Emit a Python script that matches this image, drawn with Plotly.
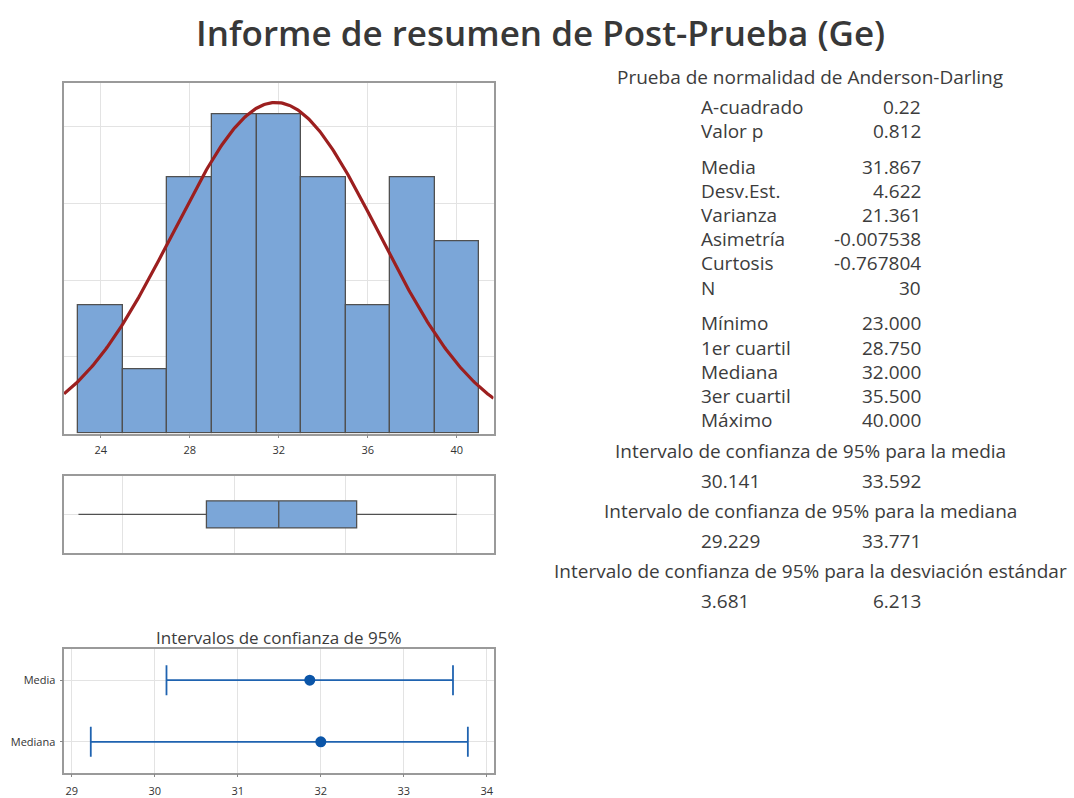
import plotly.graph_objects as go
import numpy as np

# ---- data ----
bin_centers = [24, 26, 28, 30, 32, 34, 36, 38, 40]
bin_counts = [2, 1, 4, 5, 5, 4, 2, 4, 3]
bin_width = 2

n_obs = 30
mean_val = 31.867
sd_val = 4.622

box_min = 23.0
box_q1 = 28.75
box_median = 32.0
box_q3 = 35.5
box_max = 40.0

ci_labels = ["Media", "Mediana"]
ci_centers = [31.867, 32.0]
ci_lower = [30.141, 29.229]
ci_upper = [33.592, 33.771]

ad_labels = ["A-cuadrado", "Valor p"]
ad_values = ["0.22", "0.812"]
desc_labels = ["Media", "Desv.Est.", "Varianza", "Asimetría", "Curtosis", "N"]
desc_values = ["31.867", "4.622", "21.361", "-0.007538", "-0.767804", "30"]
quant_labels = ["Mínimo", "1er cuartil", "Mediana", "3er cuartil", "Máximo"]
quant_values = ["23.000", "28.750", "32.000", "35.500", "40.000"]

ci_headers = [
    "Intervalo de confianza de 95% para la media",
    "Intervalo de confianza de 95% para la mediana",
    "Intervalo de confianza de 95% para la desviación estándar",
]
ci_low_text = ["30.141", "29.229", "3.681"]
ci_high_text = ["33.592", "33.771", "6.213"]

# ---- styling ----
W, H = 1074, 798
FONT = "Open Sans"
TXT = "#3c3c3c"
BAR_FILL = "#7ba6d8"
BAR_LINE = "#505050"
CURVE = "#9c1f1f"
FRAME = "#9a9a9a"
GRID = "#e3e3e3"
CI_BLUE = "#1f63b0"
STAT_SIZE = 19


def px_x(v):
    return v / W


def px_y(v):
    return 1 - v / H


fig = go.Figure()

# histogram (density scale) with fitted normal curve
density = [c / (n_obs * bin_width) for c in bin_counts]
fig.add_trace(go.Bar(
    x=bin_centers, y=density, width=bin_width,
    marker=dict(color=BAR_FILL, line=dict(color=BAR_LINE, width=1.3)),
    xaxis="x", yaxis="y", hoverinfo="skip",
))
xs = np.linspace(22.35, 41.65, 300)
pdf = np.exp(-0.5 * ((xs - mean_val) / sd_val) ** 2) / (sd_val * np.sqrt(2 * np.pi))
fig.add_trace(go.Scatter(
    x=xs, y=pdf, mode="lines", line=dict(color=CURVE, width=3.2),
    xaxis="x", yaxis="y", hoverinfo="skip",
))

# boxplot from summary quantities
fig.add_trace(go.Box(
    y=[0], q1=[box_q1], median=[box_median], q3=[box_q3],
    lowerfence=[box_min], upperfence=[box_max],
    orientation="h", width=0.35, whiskerwidth=0,
    fillcolor=BAR_FILL, line=dict(color=BAR_LINE, width=1.3),
    xaxis="x2", yaxis="y2", hoverinfo="skip",
))

# confidence intervals
fig.add_trace(go.Scatter(
    x=ci_centers, y=ci_labels, mode="markers",
    marker=dict(color="#0b55a8", size=11),
    error_x=dict(type="data", symmetric=False,
                 array=[u - c for u, c in zip(ci_upper, ci_centers)],
                 arrayminus=[c - l for c, l in zip(ci_centers, ci_lower)],
                 color=CI_BLUE, thickness=1.8, width=15),
    xaxis="x3", yaxis="y3", hoverinfo="skip",
))

left, right = px_x(64), px_x(493.5)
frame = dict(showline=True, mirror=True, linecolor=FRAME, linewidth=1.5,
             gridcolor=GRID, gridwidth=1, zeroline=False)
small_ticks = dict(ticks="outside", ticklen=3, tickcolor="#888", tickwidth=1)

fig.update_layout(
    width=W, height=H, margin=dict(l=0, r=0, t=0, b=0),
    paper_bgcolor="white", plot_bgcolor="white", showlegend=False,
    font=dict(family=FONT, color=TXT),
    bargap=0,
    xaxis=dict(domain=[left, right], range=[22.35, 41.65], anchor="y",
               tickvals=[24, 28, 32, 36, 40], ticklabelstandoff=2,
               tickfont=dict(size=11, color="#333"), **small_ticks, **frame),
    yaxis=dict(domain=[px_y(438.5), px_y(84.3)], range=[0, 0.0913], anchor="x",
               tickvals=[0.02, 0.04, 0.06, 0.08], showticklabels=False, ticks="", **frame),
    xaxis2=dict(domain=[left, right], range=[22.35, 41.65], anchor="y2",
                tickvals=[25, 30, 35, 40], showticklabels=False, ticks="", **frame),
    yaxis2=dict(domain=[px_y(559.5), px_y(481)], range=[-0.5, 0.5], anchor="x2",
                tickvals=[0], showticklabels=False, ticks="", **frame),
    xaxis3=dict(domain=[px_x(64.3), right], range=[28.91, 34.08], anchor="y3",
                tickvals=[29, 30, 31, 32, 33, 34], ticklabelstandoff=4,
                tickfont=dict(size=11, color="#333"), **small_ticks, **frame),
    yaxis3=dict(domain=[px_y(781.5), px_y(656.8)], anchor="x3", type="category",
                categoryorder="array", categoryarray=ci_labels,
                autorange=False, range=[1.5, -0.5], ticklabelstandoff=2,
                tickfont=dict(size=11, color="#333"), **small_ticks, **frame),
)

annotations = []


def add_text(x, y, text, size, anchor="center", weight=None, color=TXT):
    f = dict(family=FONT, size=size, color=color)
    if weight:
        f["weight"] = weight
    annotations.append(dict(
        x=px_x(x), y=px_y(y), xref="paper", yref="paper", text=text,
        showarrow=False, xanchor=anchor, yanchor="middle", font=f,
    ))


add_text(540, 33, "Informe de resumen de Post-Prueba (Ge)", 35, weight=600, color="#383838")
add_text(278.5, 645, "Intervalos de confianza de 95%", 17)

add_text(810, 78, "Prueba de normalidad de Anderson-Darling", STAT_SIZE)

LBL_X, VAL_X = 699, 923
STEP, GAP = 24.5, 11.5
y = 108
for groups in [(ad_labels, ad_values), (desc_labels, desc_values), (quant_labels, quant_values)]:
    for lab, val in zip(*groups):
        add_text(LBL_X, y, lab, STAT_SIZE, anchor="left")
        add_text(VAL_X, y, val, STAT_SIZE, anchor="right")
        y += STEP
    y += GAP

y = 456
for head, lo, hi in zip(ci_headers, ci_low_text, ci_high_text):
    add_text(810, y, head, STAT_SIZE)
    add_text(LBL_X, y + 30, lo, STAT_SIZE, anchor="left")
    add_text(VAL_X, y + 30, hi, STAT_SIZE, anchor="right")
    y += 61

fig.update_layout(annotations=annotations)

fig.write_html("out.html")
